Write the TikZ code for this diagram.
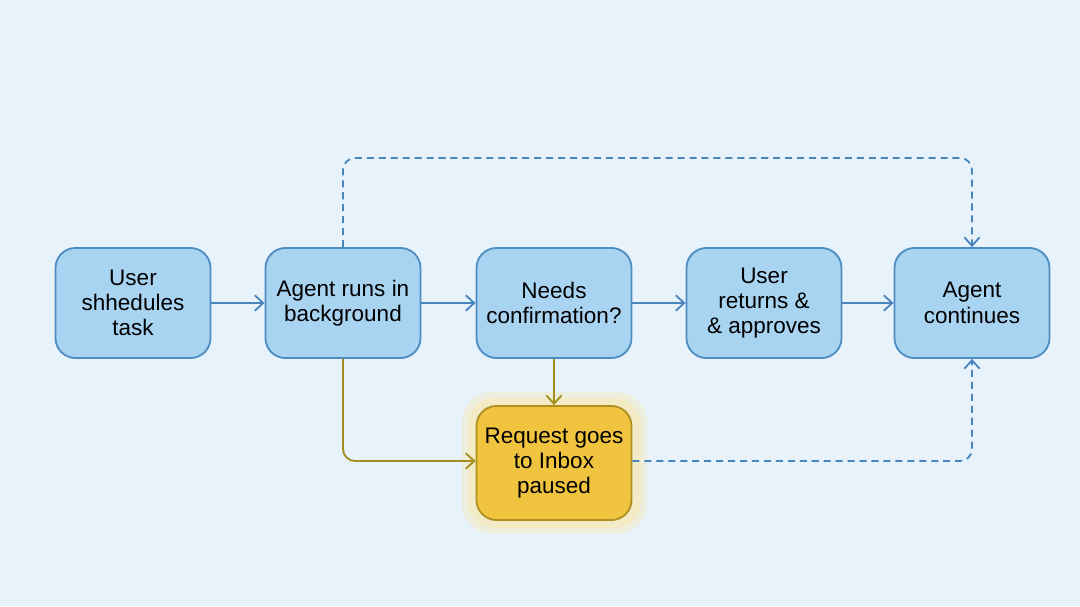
\documentclass[tikz,border=0pt]{standalone}
\usepackage{fontspec}
\setmainfont{Liberation Sans}
\usetikzlibrary{arrows.meta}
\definecolor{bgblue}{HTML}{E7F2FB}
\definecolor{boxfill}{HTML}{A8D3F1}
\definecolor{boxline}{HTML}{4E8DC2}
\definecolor{flowblue}{HTML}{4A86BE}
\definecolor{inboxfill}{HTML}{F1C440}
\definecolor{inboxline}{HTML}{B08F22}
\definecolor{flowgold}{HTML}{A38E1E}
\definecolor{glow}{HTML}{F8E9B0}
\tikzstyle{stepblock} = [draw=boxline, fill=boxfill, line width=1.3pt, rounded corners=0.5cm, minimum width=3.875cm, minimum height=2.75cm, align=center, font=\fontsize{16}{18}\selectfont, text=black]
\tikzstyle{inboxblock} = [stepblock, draw=inboxline, fill=inboxfill, minimum height=2.85cm]
\tikzstyle{blueflow} = [-{Straight Barb[length=6pt,width=11pt]}, draw=flowblue, line width=1.3pt]
\tikzstyle{goldflow} = [-{Straight Barb[length=6pt,width=11pt]}, draw=flowgold, line width=1.3pt]
\tikzstyle{backflow} = [blueflow, dashed, dash pattern=on 5pt off 3.5pt, rounded corners=0.3cm]

\begin{document}
\begin{tikzpicture}[x=0.025cm, y=-0.025cm]
      \fill[bgblue] (0, 0) rectangle (1080, 606);
      \useasboundingbox (0, 0) rectangle (1080, 606);

      % glow behind the inbox step
      \fill[glow, opacity=0.4, rounded corners=0.75cm] (462, 392) rectangle (647, 534);
      \fill[glow, opacity=0.5, rounded corners=0.65cm] (468, 398) rectangle (641, 528);

      \node[stepblock] (schedule) at (133, 303) {User\\shhedules\\task};
      \node[stepblock] (background) at (343, 303) {Agent runs in\\background};
      \node[stepblock] (confirm) at (554, 303) {Needs\\confirmation?};
      \node[stepblock] (approve) at (764, 303) {User\\returns \&\\\& approves};
      \node[stepblock] (continue) at (972, 303) {Agent\\continues};
      \node[inboxblock] (inbox) at (554, 463) {Request goes\\to Inbox\\paused};

      \draw[blueflow] (schedule) -- (background);
      \draw[blueflow] (background) -- (confirm);
      \draw[blueflow] (confirm) -- (approve);
      \draw[blueflow] (approve) -- (continue);
      \draw[goldflow] (confirm) -- (inbox);
      \draw[goldflow, rounded corners=0.3cm] (background.south) -- (343, 461) -- (inbox.west |- 0, 461);
      \draw[backflow] (background.north) -- (343, 158) -- (972, 158) -- (continue.north);
      \draw[backflow] (inbox.east |- 0, 461) -- (972, 461) -- (continue.south);
    \end{tikzpicture}
\end{document}
